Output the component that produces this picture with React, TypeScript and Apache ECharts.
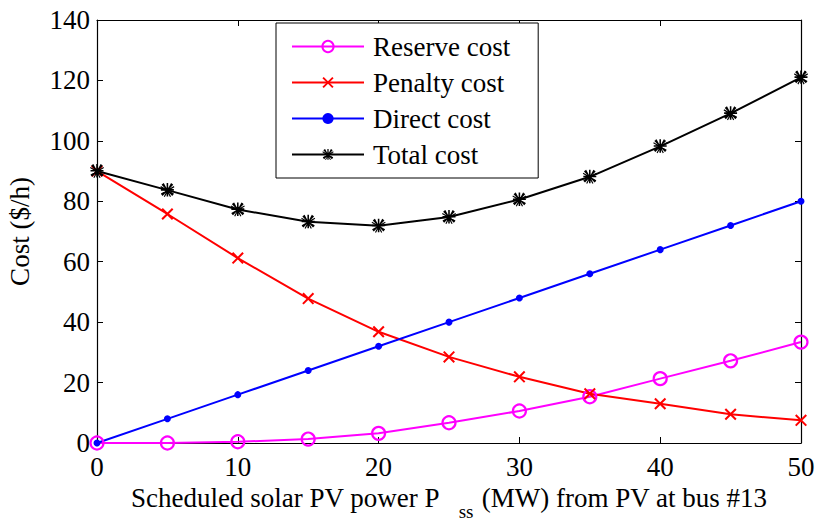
import React, { useEffect, useRef } from "react";
import * as echarts from "echarts";

const xValues = [0, 5, 10, 15, 20, 25, 30, 35, 40, 45, 50];
const reserveCost = [0, 0, 0.4, 1.3, 3.2, 6.7, 10.6, 15.3, 21.3, 27.2, 33.4];
const penaltyCost = [90, 75.8, 61.2, 47.8, 36.8, 28.5, 21.9, 16.3, 13.0, 9.5, 7.5];
const directCost = [0, 8, 16, 24, 32, 40, 48, 56, 64, 72, 80];
const totalCost = [90, 83.7, 77.3, 73.2, 71.9, 74.8, 80.6, 88.1, 98.2, 109.1, 121];
const seriesNames = ["Reserve cost", "Penalty cost", "Direct cost", "Total cost"];

const FONT = "Liberation Serif, Times New Roman, serif";

const X_SYMBOL = "path://M1.2,0 L10,8.8 L8.8,10 L0,1.2 Z M8.8,0 L10,1.2 L1.2,10 L0,8.8 Z";
const STAR_SYMBOL =
  "path://M4.4,0 L5.6,0 L5.6,10 L4.4,10 Z M0,4.4 L10,4.4 L10,5.6 L0,5.6 Z M1.3,0.5 L9.5,8.7 L8.7,9.5 L0.5,1.3 Z M8.7,0.5 L9.5,1.3 L1.3,9.5 L0.5,8.7 Z M2.2,0 L7.8,10 L7,10.4 L1.4,0.4 Z M7.8,0 L8.6,0.4 L3,10.4 L2.2,10 Z M0,2.2 L10,7.8 L9.6,8.6 L-0.4,3 Z M10,2.2 L10.4,3 L0.4,8.6 L0,7.8 Z";

function pairs(ys: number[]) {
  return xValues.map((x, i) => [x, ys[i]]);
}

export default function App() {
  const ref = useRef<HTMLDivElement>(null);
  useEffect(() => {
    if (!ref.current) return;
    const chart = echarts.init(ref.current, undefined, { renderer: "svg" });
    const axisCommon = {
      type: "value" as const,
      axisLine: { show: true, onZero: false, lineStyle: { color: "#000", width: 1.2 } },
      axisTick: { show: true, inside: true, length: 6, lineStyle: { color: "#000", width: 1 } },
      splitLine: { show: false },
    };
    chart.setOption({
      animation: false,
      backgroundColor: "#fff",
      grid: { left: 97, right: 18, top: 20, bottom: 82, containLabel: false, outerBoundsMode: "none" },
      legend: {
        data: seriesNames,
        orient: "vertical",
        left: 276,
        top: 23,
        itemWidth: 72,
        itemHeight: 14,
        itemGap: 9,
        padding: [10, 28, 10, 15],
        backgroundColor: "#fff",
        borderColor: "#000",
        borderWidth: 1,
        borderRadius: 0,
        textStyle: { fontFamily: FONT, fontSize: 27, color: "#000", padding: [0, 0, 0, 4] },
      },
      xAxis: [
        {
          ...axisCommon,
          position: "bottom",
          min: 0,
          max: 50,
          interval: 10,
          axisLabel: { fontFamily: FONT, fontSize: 27, color: "#000", margin: 10 },
          name: "{a|Scheduled solar PV power P}{b|ss}{a|(MW) from PV at bus #13}",
          nameLocation: "middle",
          nameGap: 26,
          nameTextStyle: {
            rich: {
              a: { fontFamily: FONT, fontSize: 27, color: "#000", lineHeight: 30, verticalAlign: "top" },
              b: {
                fontFamily: FONT,
                fontSize: 19,
                color: "#000",
                lineHeight: 36,
                verticalAlign: "bottom",
                padding: [0, 8, 0, 19],
              },
            },
          },
        },
        {
          ...axisCommon,
          position: "top",
          min: 0,
          max: 50,
          interval: 10,
          axisLabel: { show: false },
        },
      ],
      yAxis: [
        {
          ...axisCommon,
          position: "left",
          min: 0,
          max: 140,
          interval: 20,
          axisLabel: { fontFamily: FONT, fontSize: 27, color: "#000", margin: 7 },
          name: "Cost ($/h)",
          nameLocation: "middle",
          nameGap: 64,
          nameRotate: 90,
          nameTextStyle: { fontFamily: FONT, fontSize: 27, color: "#000" },
        },
        {
          ...axisCommon,
          position: "right",
          min: 0,
          max: 140,
          interval: 20,
          axisLabel: { show: false },
        },
      ],
      series: [
        {
          name: seriesNames[0],
          type: "line",
          data: pairs(reserveCost),
          symbol: "circle",
          symbolSize: 13,
          lineStyle: { color: "#ff00ff", width: 2 },
          itemStyle: { color: "rgba(255,255,255,0)", borderColor: "#ff00ff", borderWidth: 2.2 },
        },
        {
          name: seriesNames[1],
          type: "line",
          data: pairs(penaltyCost),
          symbol: X_SYMBOL,
          symbolSize: 12,
          lineStyle: { color: "#ff0000", width: 2 },
          itemStyle: { color: "#ff0000" },
        },
        {
          name: seriesNames[2],
          type: "line",
          data: pairs(directCost),
          symbol: "circle",
          symbolSize: 7,
          lineStyle: { color: "#0000ff", width: 2 },
          itemStyle: { color: "#0000ff" },
        },
        {
          name: seriesNames[3],
          type: "line",
          data: pairs(totalCost),
          symbol: STAR_SYMBOL,
          symbolSize: 14,
          lineStyle: { color: "#000", width: 2 },
          itemStyle: { color: "#000" },
        },
      ],
    });
    return () => chart.dispose();
  }, []);
  return <div ref={ref} style={{ width: 819, height: 525, position: "absolute", left: 0, top: 0 }} />;
}
